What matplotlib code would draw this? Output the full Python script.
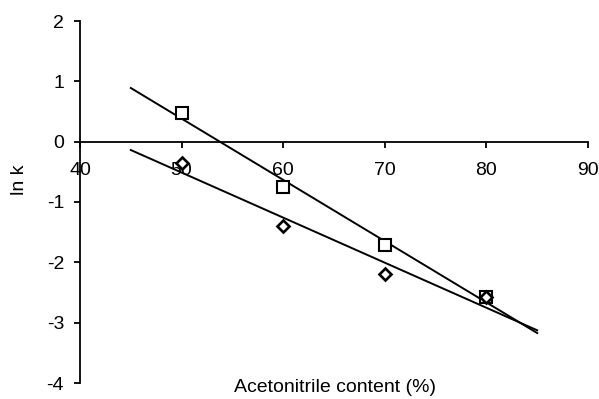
import numpy as np
import matplotlib
matplotlib.use("Agg")
import matplotlib.pyplot as plt

plt.rcParams['font.family'] = ['Liberation Sans', 'DejaVu Sans']
plt.rcParams['axes.unicode_minus'] = False

# Acetonitrile content (%) and ln k for the two compounds
acetonitrile = [50, 60, 70, 80]
lnk_square = [0.48, -0.745, -1.72, -2.58]
lnk_diamond = [-0.36, -1.39, -2.20, -2.58]

x_ticks = [40, 50, 60, 70, 80, 90]
y_ticks = [-4, -3, -2, -1, 0, 1, 2]
trend_range = [45, 85]

fig = plt.figure(figsize=(5.99, 3.99), dpi=100)
ax = fig.add_axes([80 / 599, 1 - 383 / 399, 508 / 599, 362 / 399])

ax.set_xlim(40, 90)
ax.set_ylim(-4, 2)

# Least-squares trend lines over 45-85 %
xt = np.array(trend_range, dtype=float)
for ys in (lnk_square, lnk_diamond):
    m, b = np.polyfit(acetonitrile, ys, 1)
    ax.plot(xt, m * xt + b, color='black', lw=1.4, zorder=2)

ax.plot(acetonitrile, lnk_square, linestyle='none', marker='s', ms=8.5,
        mfc='white', mec='black', mew=1.5, zorder=3)
ax.plot(acetonitrile, lnk_diamond, linestyle='none', marker='D', ms=6,
        mfc='white', mec='black', mew=1.9, zorder=4)

# Axis frame: left spine at x=40, bottom spine crosses at y=0
ax.spines['top'].set_visible(False)
ax.spines['right'].set_visible(False)
ax.spines['bottom'].set_position(('data', 0))
for s in ('left', 'bottom'):
    ax.spines[s].set_linewidth(1.3)
    ax.spines[s].set_zorder(1)

ax.set_xticks(x_ticks)
ax.set_yticks(y_ticks)
ax.tick_params(axis='x', direction='out', length=4.5, width=1.3, pad=10, labelsize=14)
ax.tick_params(axis='y', direction='out', length=4.5, width=1.3, pad=7, labelsize=14)

fig.text(20 / 599, 1 - 180 / 399, 'ln k', rotation=90, ha='center', va='center', fontsize=14)
fig.text(335 / 599, 1 - 388 / 399, 'Acetonitrile content (%)', ha='center', va='center', fontsize=14)

fig.savefig('out.png', dpi=100)
